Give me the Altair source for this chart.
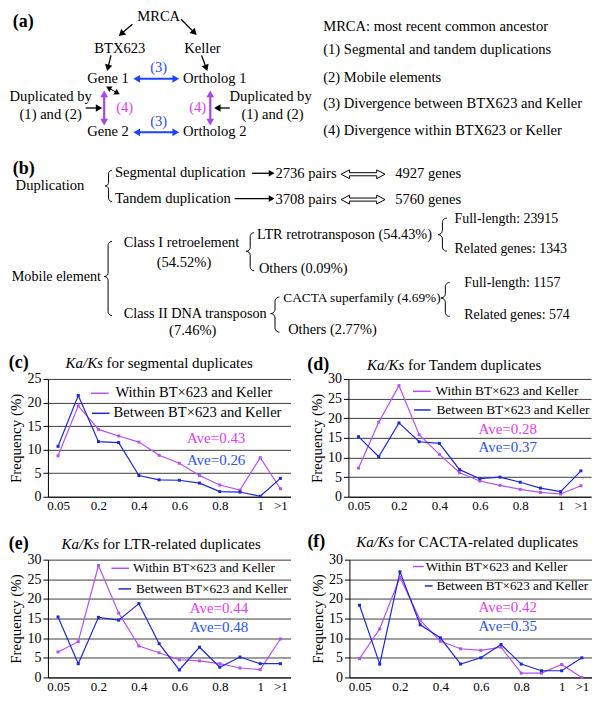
import math
import altair as alt
import pandas as pd

FONT = "Liberation Serif"
MAG_LINE = "#b550f5"
MAG_TEXT = "#e23cf0"
BLUE_LINE = "#1c28dc"
BLUE_TEXT = "#2c55ee"
ARR_BLUE = "#1d43ff"
ARR_MAG = "#a646ea"
GRID = "#3c3c3c"

# ---------------- chart data ----------------
CATS = ["0.05", "0.1", "0.2", "0.3", "0.4", "0.5", "0.6", "0.7", "0.8", "0.9", "1", ">1"]
SHOWN = ["0.05", "0.2", "0.4", "0.6", "0.8", "1", ">1"]
SERIES = ["Within BT×623 and Keller", "Between BT×623 and Keller"]

SEG_WITHIN = [8.7, 19.3, 14.3, 12.9, 11.6, 8.8, 7.1, 4.5, 2.5, 1.4, 8.3, 1.7]
SEG_BETWEEN = [10.7, 21.5, 11.7, 11.5, 4.5, 3.6, 3.5, 2.9, 1.1, 1.0, 0.1, 3.9]
TAN_WITHIN = [7.3, 19.0, 28.3, 15.8, 10.8, 6.1, 4.0, 2.9, 1.9, 1.1, 0.7, 2.8]
TAN_BETWEEN = [15.3, 10.2, 18.8, 14.0, 13.6, 6.9, 4.6, 5.0, 3.7, 2.2, 1.3, 6.6]
LTR_WITHIN = [6.5, 9.1, 28.5, 16.4, 8.0, 6.3, 4.5, 4.2, 3.5, 2.4, 2.0, 9.8]
LTR_BETWEEN = [15.4, 3.5, 15.3, 14.6, 18.8, 8.6, 1.9, 7.7, 2.6, 5.2, 3.5, 3.5]
CACTA_WITHIN = [4.8, 12.4, 25.5, 14.6, 9.2, 7.3, 6.9, 7.7, 1.1, 1.1, 3.3, 0.0]
CACTA_BETWEEN = [18.4, 3.4, 26.9, 13.4, 10.1, 3.4, 5.0, 8.4, 3.4, 1.7, 1.7, 5.0]

PANEL_LABELS = ["(c)", "(d)", "(e)", "(f)"]
PANEL_TITLES = ["for segmental duplicates", "for Tandem duplicates",
                "for LTR-related duplicates", "for CACTA-related duplicates"]
PANEL_YMAX = [25, 30, 30, 30]
AVE_WITHIN = ["Ave=0.43", "Ave=0.28", "Ave=0.44", "Ave=0.42"]
AVE_BETWEEN = ["Ave=0.26", "Ave=0.37", "Ave=0.48", "Ave=0.35"]

# ---------------- top diagram text (layout in reference pixels) ----------------
F0 = 14.6
TEXT_CENTER = [
    ("MRCA", 155, 10, F0), ("BTX623", 115, 42, F0), ("Keller", 200, 42, F0),
    ("Gene 1", 103, 73, F0), ("Gene 2", 103, 128, F0),
    ("Duplicated by", 44, 92, F0), ("(1) and (2)", 44, 110, F0),
    ("Duplicated by", 270, 92, F0), ("(1) and (2)", 272, 110, F0),
    ("(54.52%)", 181, 262, F0), ("(7.46%)", 190, 332, F0),
]
TEXT_LEFT = [
    ("Ortholog 1", 180, 73, F0), ("Ortholog 2", 180, 128, F0),
    ("MRCA: most recent common ancestor", 324, 20, F0),
    ("(1) Segmental and tandem duplications", 324, 43, F0),
    ("(2) Mobile elements", 324, 72, F0),
    ("(3) Divergence between BTX623 and Keller", 324, 99, F0),
    ("(4) Divergence within BTX623 or Keller", 324, 127, F0),
    ("Duplication", 8, 183, F0),
    ("Segmental duplication", 110, 170, F0), ("Tandem duplication", 110, 196, F0),
    ("2736 pairs", 275, 171, F0), ("3708 pairs", 275, 197, F0),
    ("4927 genes", 398, 171, F0), ("5760 genes", 398, 197, F0),
    ("Mobile element", 4, 276, 14.2),
    ("Class I retroelement", 119, 242, 14.4),
    ("LTR retrotransposon (54.43%)", 256, 233, 14.3),
    ("Others (0.09%)", 258, 268, 14.4),
    ("Full-length: 23915", 459, 217, 13.9), ("Related genes: 1343", 459, 248, 13.9),
    ("Class II DNA transposon", 119, 314, 14.3),
    ("CACTA superfamily (4.69%)", 283, 298, 13.4),
    ("Others (2.77%)", 288, 331, 14.4),
    ("Full-length: 1157", 469, 283, 13.9), ("Related genes: 574", 469, 315, 13.9),
]
TEXT_BOLD = [("(a)", 5, 15, 18), ("(b)", 5, 166, 18)]
TEXT_BLUE = [("(3)", 155, 62, F0), ("(3)", 155, 117, F0)]
TEXT_MAG = [("(4)", 120, 103, F0), ("(4)", 195, 103, F0)]
DOUBLE_ARROWS = [(365, 171), (365, 197)]
DOUBLE_PATH = ("M-1,0L-0.62,-0.2L-0.62,-0.07L0.62,-0.07L0.62,-0.2L1,0"
               "L0.62,0.2L0.62,0.07L-0.62,0.07L-0.62,0.2Z")

# x1, y1, x2, y2, color, width, both-ended, head size
ARROWS = [
    (128, 17, 114, 29, "black", 1.3, False, 55),
    (178, 12, 194, 28, "black", 1.3, False, 55),
    (106, 49, 102, 65, "black", 1.3, False, 55),
    (199, 49, 205, 65, "black", 1.3, False, 55),
    (80, 103, 97, 103, "black", 1.3, False, 55),
    (228, 103, 212, 103, "black", 1.3, False, 55),
    (101, 81, 115, 89, "black", 1.0, True, 40),
    (129, 73, 176, 73, ARR_BLUE, 2.0, True, 60),
    (129, 128, 176, 128, ARR_BLUE, 2.0, True, 60),
    (99, 85, 99, 121, ARR_MAG, 2.2, True, 60),
    (208, 85, 208, 121, ARR_MAG, 2.2, True, 60),
    (251, 170, 274, 170, "black", 1.3, False, 45),
    (233, 196, 274, 196, "black", 1.3, False, 45),
]
# tip x, end x, top y, bottom y, middle y
BRACES = [
    (100, 107, 167, 199, 183),
    (99, 107, 240, 316, 276),
    (245, 253, 231, 270, 250),
    (442, 451, 216, 250, 233),
    (270, 279, 297, 333, 314),
    (445, 454, 282, 317, 298),
]

LOFF = 39.2  # left overhang of the chart rows (column alignment offset)


def tx(v):
    return (v - 1) * 0.975 - LOFF


def ty(v):
    return (v - 2) * 0.976


XP = dict(scale=None, axis=None)


def text_layer(items, **mk):
    df = pd.DataFrame({"text": [t[0] for t in items],
                       "x": [tx(t[1]) for t in items],
                       "y": [ty(t[2]) for t in items],
                       "fs": [t[3] for t in items]})
    return alt.Chart(df).mark_text(baseline="middle", **mk).encode(
        x=alt.X("x:Q", **XP), y=alt.Y("y:Q", **XP), text="text:N",
        size=alt.Size("fs:Q", scale=None))


shafts, heads = [], []
for x1, y1, x2, y2, col, w, both, s in ARROWS:
    X1, Y1, X2, Y2 = tx(x1), ty(y1), tx(x2), ty(y2)
    L = math.hypot(X2 - X1, Y2 - Y1)
    ux, uy = (X2 - X1) / L, (Y2 - Y1) / L
    h = 0.433 * math.sqrt(s)
    ang = math.degrees(math.atan2(ux, -uy)) % 360
    ex, ey = X2 - ux * h, Y2 - uy * h
    heads.append({"x": ex, "y": ey, "a": ang, "c": col, "s": s})
    sx, sy = X1, Y1
    if both:
        sx, sy = X1 + ux * h, Y1 + uy * h
        heads.append({"x": sx, "y": sy, "a": (ang + 180) % 360, "c": col, "s": s})
    shafts.append({"x": sx, "y": sy, "x2": ex, "y2": ey, "c": col, "w": w})

brace_pts = []
for bi, (xl, xr, y0, y1, ym) in enumerate(BRACES):
    r = (xr - xl) / 2.0
    pts = []
    ts = [i * math.pi / 12 for i in range(7)]
    pts += [(xr - r * math.sin(t), y0 + r - r * math.cos(t)) for t in ts]
    pts += [(xl + r * math.cos(t), ym - r + r * math.sin(t)) for t in ts]
    pts += [(xl + r * math.sin(t), ym + r - r * math.cos(t)) for t in ts]
    pts += [(xr - r * math.cos(t), y1 - r + r * math.sin(t)) for t in ts]
    for k, (px, py) in enumerate(pts):
        brace_pts.append({"b": bi, "k": k, "x": tx(px), "y": ty(py)})

shaft_layer = alt.Chart(pd.DataFrame(shafts)).mark_rule().encode(
    x=alt.X("x:Q", **XP), y=alt.Y("y:Q", **XP), x2="x2:Q", y2="y2:Q",
    color=alt.Color("c:N", scale=None), strokeWidth=alt.StrokeWidth("w:Q", scale=None))
head_layer = alt.Chart(pd.DataFrame(heads)).mark_point(
    shape="triangle-up", filled=True, opacity=1, strokeWidth=0).encode(
    x=alt.X("x:Q", **XP), y=alt.Y("y:Q", **XP),
    angle=alt.Angle("a:Q", scale=None), color=alt.Color("c:N", scale=None),
    size=alt.Size("s:Q", scale=None))
brace_layer = alt.Chart(pd.DataFrame(brace_pts)).mark_line(
    color="black", strokeWidth=1).encode(
    x=alt.X("x:Q", **XP), y=alt.Y("y:Q", **XP), detail="b:N", order="k:Q")
dbl_layer = alt.Chart(pd.DataFrame({"x": [tx(x) for x, _ in DOUBLE_ARROWS],
                                    "y": [ty(y) for _, y in DOUBLE_ARROWS]})).mark_point(
    shape=DOUBLE_PATH, filled=False, color="black", strokeWidth=1, opacity=1,
    size=(44 ** 2)).encode(x=alt.X("x:Q", **XP), y=alt.Y("y:Q", **XP))

top = alt.layer(
    brace_layer, shaft_layer, head_layer, dbl_layer,
    text_layer(TEXT_CENTER, font=FONT, align="center", color="black"),
    text_layer(TEXT_LEFT, font=FONT, align="left", color="black"),
    text_layer(TEXT_BOLD, font=FONT, fontWeight="bold", align="left", color="black"),
    text_layer(TEXT_BLUE, font=FONT, align="center", color="#2a4cf5"),
    text_layer(TEXT_MAG, font=FONT, align="center", color=MAG_TEXT),
).properties(width=540, height=345)

# ---------------- line panels ----------------
W, H = 243, 118
ONE = pd.DataFrame({"k": [0]})
HS = H / 120.0

# per-panel decoration layout (pixels relative to plot area, for a 120-px tall plot)
DECOR = [
    dict(ty=-15.6, lx=-39.2, kx=17.6, sw=(43.1, 60.8, 14.6), tw=(67.6, 14.6),
         sb=(44.1, 61.7, 35.0), tb=(65.7, 35.0), ax=139.2, ay=(60.5, 82.5), fs=14.6),
    dict(ty=-13.6, lx=-41.2, kx=18.6, sw=(64.7, 82.3, 12.6), tw=(87.2, 12.6),
         sb=(65.7, 82.3, 31.6), tb=(88.2, 31.6), ax=130.3, ay=(50.5, 69.5), fs=13.3),
    dict(ty=-15.6, lx=-39.2, kx=13.7, sw=(63.7, 81.3, 8.8), tw=(85.3, 8.8),
         sb=(70.6, 83.3, 29.8), tb=(88.2, 29.8), ax=142.1, ay=(49.6, 68.6), fs=13.2),
    dict(ty=-17.5, lx=-42.1, kx=6.9, sw=(63.7, 74.5, 7.0), tw=(76.4, 7.0),
         sb=(75.5, 83.3, 26.8), tb=(87.2, 26.8), ax=129.4, ay=(48.6, 67.6), fs=13.2),
]


def vtext(txt, x, y, **mk):
    return alt.Chart(ONE).mark_text(baseline="middle", align="left", **mk).encode(
        x=alt.value(x), y=alt.value(y), text=alt.value(txt))


def vrule(x1, x2, y, col):
    return alt.Chart(ONE).mark_rule(color=col, strokeWidth=1.5).encode(
        x=alt.value(x1), x2=alt.value(x2), y=alt.value(y))


def panel(i, within, between):
    rows = []
    for s, vals in zip(SERIES, [within, between]):
        for k, (c, v) in enumerate(zip(CATS, vals)):
            rows.append({"ratio": c, "series": s, "freq": v, "k": k})
    df = pd.DataFrame(rows)
    ymax = PANEL_YMAX[i]
    d = DECOR[i]
    lines = alt.Chart(df).mark_line(
        strokeWidth=1.2,
        point=alt.OverlayMarkDef(shape="square", size=9, filled=True)).encode(
        x=alt.X("ratio:N", sort=CATS, scale=alt.Scale(type="point", padding=0.5),
                axis=alt.Axis(values=SHOWN, title=None, labelAngle=0, ticks=False,
                              tickSize=0, labelPadding=3, labelFont=FONT,
                              labelFontSize=13, labelColor="black",
                              domainColor="black", grid=False)),
        y=alt.Y("freq:Q", scale=alt.Scale(domain=[0, ymax], nice=False),
                axis=alt.Axis(values=list(range(0, ymax + 1, 5)), title="Frequency (%)",
                              titleFont=FONT, titleFontSize=15, titleFontWeight="normal",
                              titleColor="black", titlePadding=3, labelFont=FONT,
                              labelFontSize=14, labelColor="black", labelPadding=2,
                              tickSize=5, tickColor="black", domainColor="black",
                              grid=True, gridColor=GRID, gridWidth=1)),
        color=alt.Color("series:N", scale=alt.Scale(domain=SERIES, range=[MAG_LINE, BLUE_LINE]),
                        legend=None),
        order="k:Q")
    deco = [
        vtext(PANEL_LABELS[i], d["lx"], d["ty"], font=FONT, fontSize=18, fontWeight="bold", color="black"),
        vtext("Ka/Ks", d["kx"], d["ty"], font=FONT, fontSize=15, fontStyle="italic", color="black"),
        vtext(PANEL_TITLES[i], d["kx"] + 41, d["ty"], font=FONT, fontSize=15, color="black"),
        vrule(d["sw"][0], d["sw"][1], d["sw"][2] * HS, MAG_LINE),
        vrule(d["sb"][0], d["sb"][1], d["sb"][2] * HS, BLUE_LINE),
        vtext(SERIES[0], d["tw"][0], d["tw"][1] * HS, font=FONT, fontSize=d["fs"], color="black"),
        vtext(SERIES[1], d["tb"][0], d["tb"][1] * HS, font=FONT, fontSize=d["fs"], color="black"),
        vtext(AVE_WITHIN[i], d["ax"], d["ay"][0] * HS, font=FONT, fontSize=15, color=MAG_TEXT),
        vtext(AVE_BETWEEN[i], d["ax"], d["ay"][1] * HS, font=FONT, fontSize=15, color=BLUE_TEXT),
    ]
    return alt.layer(lines, *deco).properties(width=W, height=H)


row1 = alt.hconcat(panel(0, SEG_WITHIN, SEG_BETWEEN), panel(1, TAN_WITHIN, TAN_BETWEEN), spacing=16)
row2 = alt.hconcat(panel(2, LTR_WITHIN, LTR_BETWEEN), panel(3, CACTA_WITHIN, CACTA_BETWEEN), spacing=16)

chart = alt.vconcat(top, alt.vconcat(row1, row2, spacing=20), spacing=0).properties(
    padding=0, background="white"
).configure_view(stroke=None)

chart.save("out.html", embed_options={"renderer": "svg", "actions": False})
